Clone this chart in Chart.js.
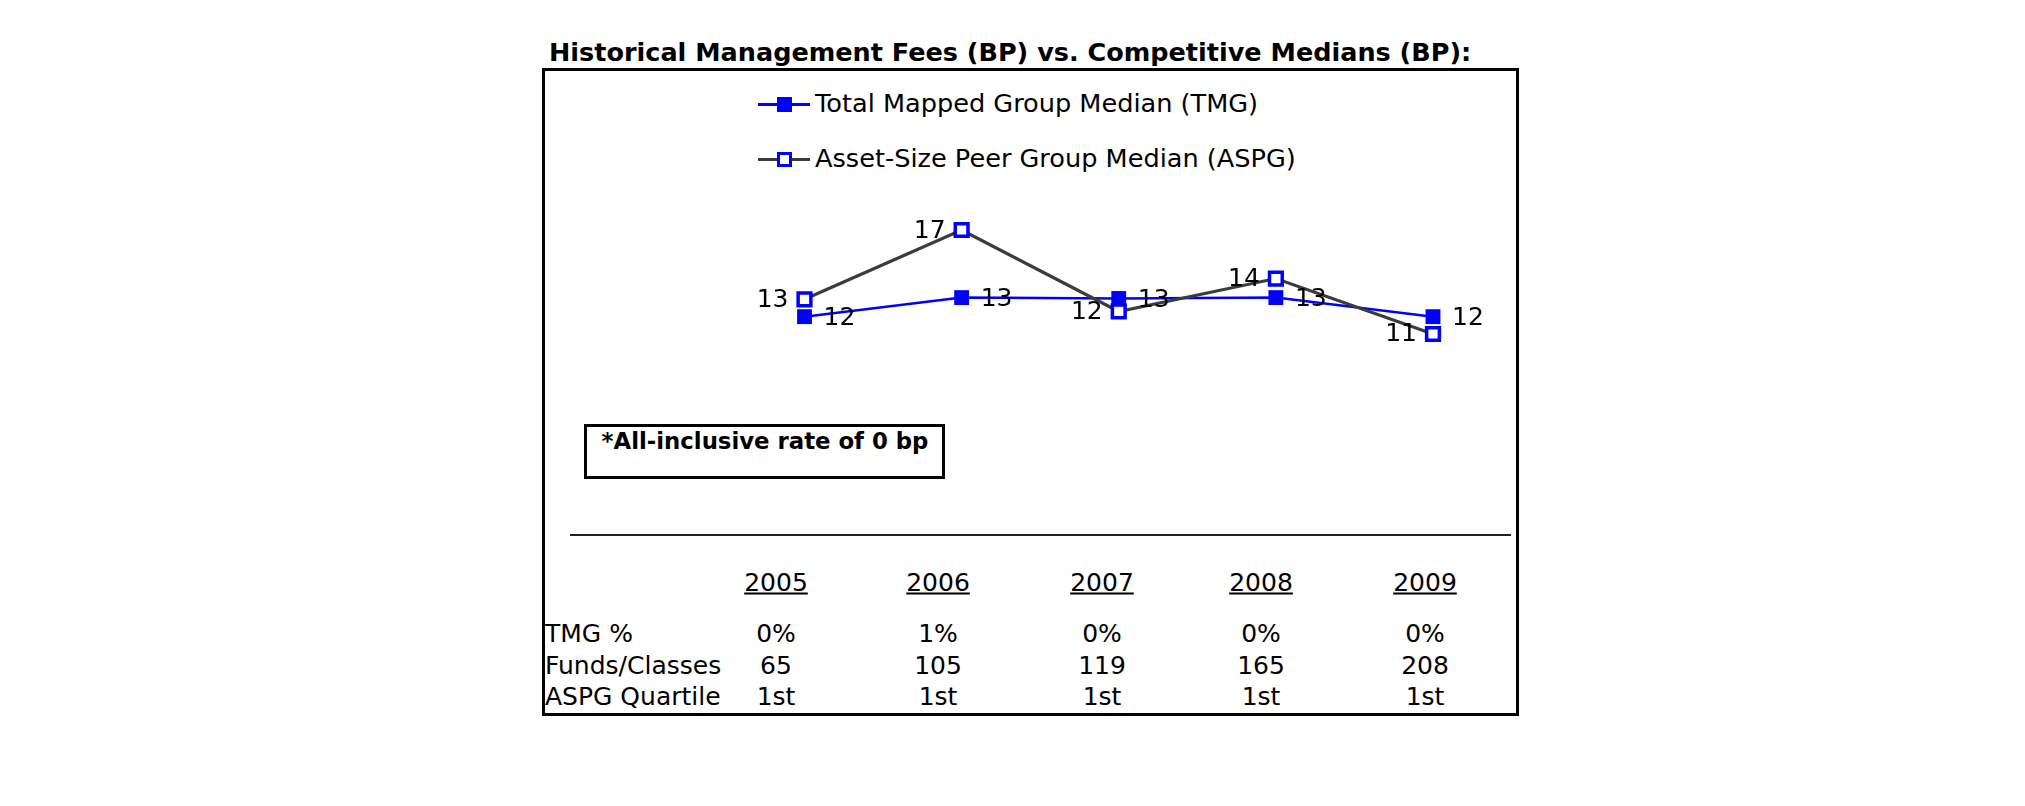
<!DOCTYPE html>
<html>
<head>
<meta charset="utf-8">
<script src="https://cdn.jsdelivr.net/npm/chart.js@4.4.1/dist/chart.umd.min.js"></script>
<style>
    body{margin:0;background:#fff;font-family:"DejaVu Sans",Verdana,sans-serif;color:#000;}
    #page{position:relative;width:2025px;height:806px;overflow:hidden;}
    .t{position:absolute;white-space:nowrap;line-height:1;transform:translateY(-50%);}
    .c{transform:translate(-50%,-50%);}
</style>
</head>
<body>
<div id="page">
    <div class="t" style="left:549px;top:53px;font-size:25.5px;font-weight:bold;">Historical Management Fees (BP) vs. Competitive Medians (BP):</div>
    <div id="marco" style="position:absolute;left:542px;top:68px;width:977px;height:648px;border:3px solid #000;box-sizing:border-box;"></div>

    <div id="leyenda"></div>

    <canvas id="grafico" width="977" height="200" style="position:absolute;left:542px;top:190px;"></canvas>

    <div style="position:absolute;left:584px;top:424px;width:361px;height:55px;border:3px solid #000;box-sizing:border-box;"></div>
    <div class="t c" style="left:765px;top:441px;font-size:22.8px;font-weight:bold;">*All-inclusive rate of 0 bp</div>

    <div style="position:absolute;left:570px;top:534px;width:941px;height:2px;background:#222;"></div>

    <div id="tabla"></div>
</div>

<script>
/*
* Datos
*/
var anios = ["2005", "2006", "2007", "2008", "2009"];
var tmgMediana = [12.0, 13.1, 13.05, 13.1, 12.0];
var aspgMediana = [13.0, 17.0, 12.3, 14.2, 11.0];
var tmgPorcentaje = ["0%", "1%", "0%", "0%", "0%"];
var fondosClases = ["65", "105", "119", "165", "208"];
var aspgCuartil = ["1st", "1st", "1st", "1st", "1st"];

var nombreTmg = "Total Mapped Group Median (TMG)";
var nombreAspg = "Asset-Size Peer Group Median (ASPG)";

var azul = "#0000ff";
var gris = "#3c3c3c";

/*
* Leyenda
*/
function agregarItemLeyenda(y, colorLinea, relleno, texto)
{
    let html = '<div style="position:absolute;left:758px;top:' + (y - 1.5) + 'px;width:52px;height:3px;background:' + colorLinea + ';"></div>';
    html += '<div style="position:absolute;left:777px;top:' + (y - 7.5) + 'px;width:15px;height:15px;box-sizing:border-box;border:3px solid ' + azul + ';background:' + relleno + ';"></div>';
    html += '<div class="t" style="left:815px;top:' + y + 'px;font-size:25.6px;">' + texto + '</div>';
    document.getElementById("leyenda").insertAdjacentHTML("beforeend", html);
}
agregarItemLeyenda(104, azul, azul, nombreTmg);
agregarItemLeyenda(159, gris, "#fff", nombreAspg);

/*
* Tabla inferior
*/
var columnasX = [776, 938, 1102, 1261, 1425];
var filas = [
    {nombre: "TMG %", valores: tmgPorcentaje, y: 633},
    {nombre: "Funds/Classes", valores: fondosClases, y: 665},
    {nombre: "ASPG Quartile", valores: aspgCuartil, y: 696}
];
let tabla = "";
anios.forEach(function (a, i) {
    tabla += '<div class="t c" style="left:' + columnasX[i] + 'px;top:582px;font-size:25px;text-decoration:underline;">' + a + '</div>';
});
filas.forEach(function (f) {
    tabla += '<div class="t" style="left:545px;top:' + f.y + 'px;font-size:25px;">' + f.nombre + '</div>';
    f.valores.forEach(function (v, i) {
        tabla += '<div class="t c" style="left:' + columnasX[i] + 'px;top:' + f.y + 'px;font-size:25px;">' + v + '</div>';
    });
});
document.getElementById("tabla").innerHTML = tabla;

/*
* Etiquetas de valores
*/
var etiquetas = {
    id: "etiquetas",
    afterDatasetsDraw: function (chart) {
        let ctx = chart.ctx;
        ctx.save();
        ctx.font = '25px "DejaVu Sans"';
        ctx.fillStyle = "#000";
        ctx.textBaseline = "middle";
        chart.data.datasets.forEach(function (ds, i) {
            let meta = chart.getDatasetMeta(i);
            meta.data.forEach(function (p, j) {
                let txt = String(Math.round(ds.data[j]));
                if (ds.ladoEtiqueta === "derecha") {
                    ctx.textAlign = "left";
                    ctx.fillText(txt, p.x + 19, p.y + 2);
                } else {
                    ctx.textAlign = "right";
                    ctx.fillText(txt, p.x - 16, p.y + 1);
                }
            });
        });
        ctx.restore();
    }
};

/*
* Grafico de lineas
*/
var ctx1 = document.getElementById("grafico").getContext("2d");
var myChart1 = new Chart(ctx1, {
    type: "line",
    data: {
        labels: anios,
        datasets: [{
                label: nombreTmg,
                data: tmgMediana,
                borderColor: azul,
                borderWidth: 2.5,
                pointStyle: "rect",
                pointRadius: 10.5,
                pointBorderWidth: 0,
                pointBackgroundColor: azul,
                pointBorderColor: azul,
                tension: 0,
                clip: false,
                order: 1,
                ladoEtiqueta: "derecha"
            },
            {
                label: nombreAspg,
                data: aspgMediana,
                borderColor: gris,
                borderWidth: 3.2,
                pointStyle: "rect",
                pointRadius: 9,
                pointBorderWidth: 3.5,
                pointBackgroundColor: "#fff",
                pointBorderColor: azul,
                tension: 0,
                clip: false,
                order: 0,
                ladoEtiqueta: "izquierda"
            }
        ]
    },
    options: {
        responsive: false,
        animation: false,
        devicePixelRatio: 1,
        events: [],
        layout: {
            padding: {left: 262.5, right: 86, top: 22.67, bottom: 38.67}
        },
        scales: {
            x: {display: false},
            y: {display: false, min: 10, max: 18}
        },
        plugins: {
            legend: {display: false},
            tooltip: {enabled: false}
        }
    },
    plugins: [etiquetas]
});
</script>
</body>
</html>
